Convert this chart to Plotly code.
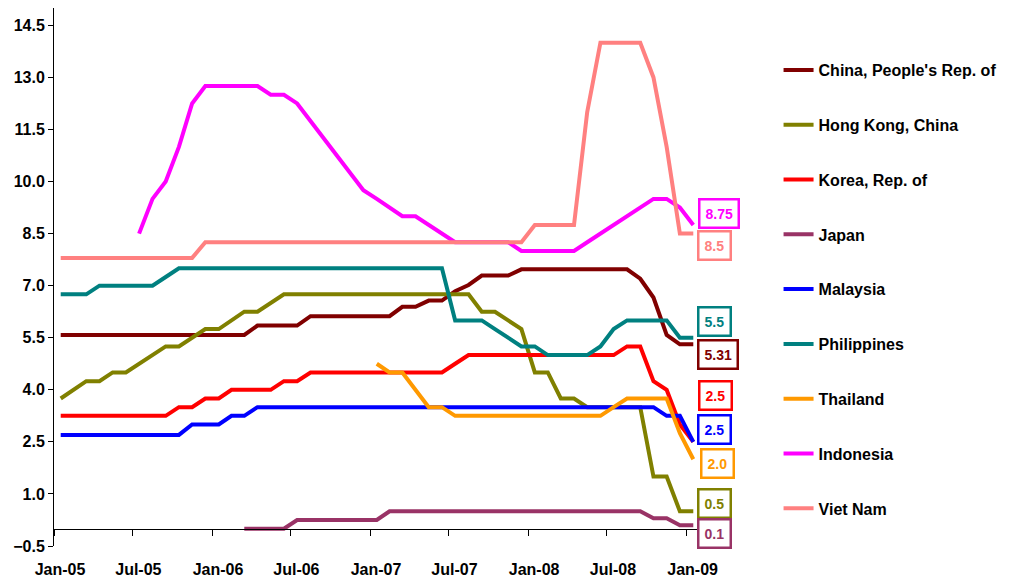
import plotly.graph_objs as go
import pandas as pd

# monthly end-of-period policy rates, Jan-05 .. Jan-09
months = pd.date_range('2005-01-01', '2009-01-01', freq='MS')

tick_dates = ['2005-01-01', '2005-07-01', '2006-01-01', '2006-07-01', '2007-01-01',
              '2007-07-01', '2008-01-01', '2008-07-01', '2009-01-01']
tick_labels = ['Jan-05', 'Jul-05', 'Jan-06', 'Jul-06', 'Jan-07', 'Jul-07', 'Jan-08', 'Jul-08', 'Jan-09']

china = [5.58] * 15 + [5.85] * 4 + [6.12] * 7 + [6.39] * 2 + [6.57] * 2 + [6.84, 7.02] + [7.29] * 3 + \
        [7.47] * 9 + [7.20, 6.66, 5.58, 5.31, 5.31]

hong_kong = [3.75, 4.0, 4.25, 4.25, 4.5, 4.5, 4.75, 5.0, 5.25, 5.25, 5.5, 5.75, 5.75, 6.0, 6.25, 6.25, 6.5] + \
            [6.75] * 15 + [6.25, 6.25, 6.0, 5.75, 4.5, 4.5, 3.75, 3.75] + [3.5] * 5 + [1.5, 1.5, 0.5, 0.5]

korea = [3.25] * 9 + [3.5, 3.5, 3.75, 3.75] + [4.0] * 4 + [4.25, 4.25] + [4.5] * 11 + [4.75] + [5.0] * 12 + \
        [5.25, 5.25, 4.25, 4.0, 3.0, 2.5]

japan = [None] * 14 + [0.0] * 4 + [0.25] * 7 + [0.5] * 20 + [0.3, 0.3, 0.1, 0.1]

malaysia = [2.7] * 10 + [3.0] * 3 + [3.25] * 2 + [3.5] * 31 + [3.25, 3.25, 2.5]

philippines = [6.75] * 3 + [7.0] * 5 + [7.25] + [7.5] * 21 + [6.0] * 3 + [5.75, 5.5, 5.25, 5.25] + [5.0] * 4 + \
              [5.25, 5.75] + [6.0] * 4 + [5.5, 5.5]

thailand = [None] * 24 + [4.75, 4.5, 4.5, 4.0, 3.5, 3.5] + [3.25] * 12 + [3.5] + [3.75] * 4 + [2.75, 2.0]

indonesia = [None] * 6 + [8.5, 9.5, 10.0, 11.0, 12.25] + [12.75] * 5 + \
            [12.5, 12.5, 12.25, 11.75, 11.25, 10.75, 10.25, 9.75, 9.5, 9.25, 9.0, 9.0, 8.75, 8.5] + \
            [8.25] * 5 + [8.0] * 5 + [8.25, 8.5, 8.75, 9.0, 9.25, 9.5, 9.5, 9.25, 8.75]

viet_nam = [7.8] * 11 + [8.25] * 25 + [8.75] * 4 + [12.0] + [14.0] * 4 + [13.0, 11.0, 8.5, 8.5]

series_names = ["China, People's Rep. of", 'Hong Kong, China', 'Korea, Rep. of', 'Japan', 'Malaysia',
                'Philippines', 'Thailand', 'Indonesia', 'Viet Nam']
series_values = [china, hong_kong, korea, japan, malaysia, philippines, thailand, indonesia, viet_nam]
end_labels = ['5.31', '0.5', '2.5', '0.1', '2.5', '5.5', '2.0', '8.75', '8.5']

colors = ['#800000', '#808000', '#FF0000', '#993366', '#0000FF', '#008080', '#FF9900', '#FF00FF', '#FF8080']
# pixel nudges for the boxed end labels (anchored at start of last month)
label_yshift = [-10, 8, 46, -8, 12, 16, -4, 11, -12]
label_xshift = [10, 10, 11, 10, 10, 10, 13, 11, 10]

FONT = 'Liberation Sans, Arial, sans-serif'

data = []
for i, (name, vals) in enumerate(zip(series_names, series_values)):
    data.append(go.Scatter(x=months, y=vals,
                           name=name,
                           mode='lines',
                           legendgroup=name,
                           xperiod='M1', xperiodalignment='middle',
                           line=dict(color=colors[i], width=4),
                           hoverinfo='x+y+name'))

# empty trace so the zero-crossing axis gets drawn
data.append(go.Scatter(x=months, y=[None] * len(months), xaxis='x2', showlegend=False, hoverinfo='skip'))

annotations = []
for i, vals in enumerate(series_values):
    annotations.append(dict(x=months[-1], y=vals[-1], xref='x', yref='y',
                            text=end_labels[i], showarrow=False,
                            xanchor='left', yanchor='middle',
                            xshift=label_xshift[i], yshift=label_yshift[i],
                            font=dict(family=FONT, size=14, color=colors[i], weight='bold'),
                            bgcolor='white', bordercolor=colors[i], borderwidth=2.5, borderpad=5))

x_range = ['2005-01-01', '2009-02-01']

# page body has an 8px margin, so the figure is 8px smaller than the window
layout = go.Layout(
    width=1005, height=571,
    margin=dict(l=46, r=313, t=0, b=33, autoexpand=False),
    paper_bgcolor='white', plot_bgcolor='white',
    font=dict(family=FONT, size=15, color='black', weight='bold'),
    showlegend=True,
    legend=dict(x=1.1216, y=0.9164, xanchor='left', yanchor='top',
                font=dict(family=FONT, size=16, color='black', weight='bold'),
                tracegroupgap=31, bgcolor='rgba(0,0,0,0)'),
    xaxis=dict(type='date', range=x_range, tickmode='array', tickvals=tick_dates, ticktext=tick_labels,
               showgrid=False, zeroline=False, showline=False, ticks='', automargin=False,
               ticklabelstandoff=12, ticklabelshift=6,
               tickfont=dict(family=FONT, size=16, color='black', weight='bold')),
    xaxis2=dict(type='date', range=x_range, overlaying='x', anchor='free', position=0.5 / 15.5,
                matches='x', tickmode='array', tickvals=tick_dates, showticklabels=False,
                showgrid=False, zeroline=False, showline=True, linecolor='black', linewidth=1,
                ticks='outside', ticklen=6, tickcolor='black', tickwidth=1, automargin=False),
    yaxis=dict(range=[-0.5, 15.0], tick0=-0.5, dtick=1.5, tickformat='.1f', automargin=False,
               showgrid=False, zeroline=False, showline=True, linecolor='black', linewidth=1,
               ticks='outside', ticklen=5, tickcolor='black',
               tickfont=dict(family=FONT, size=16, color='black', weight='bold')),
    annotations=annotations
)

fig = go.Figure(data=data, layout=layout)
fig.write_html('out.html')
